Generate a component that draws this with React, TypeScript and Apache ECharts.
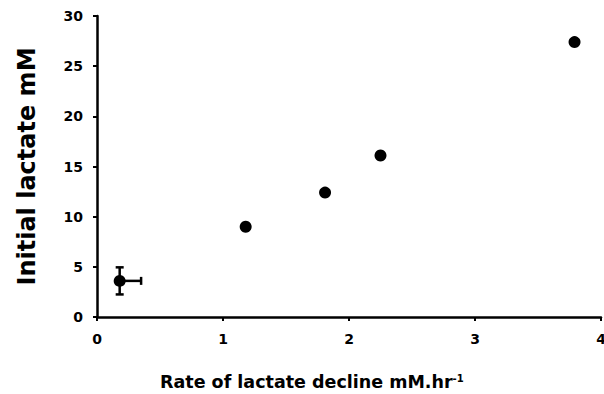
import React, { useEffect, useRef } from "react";
import * as echarts from "echarts";

const xValues = [0.18, 1.18, 1.81, 2.25, 3.79];
const yValues = [3.6, 9.0, 12.4, 16.1, 27.4];
// error bar on first point: [x, y, yErr, xErrRight]
const errorBars = [[0.18, 3.6, 1.35, 0.17]];
const xTitle = "Rate of lactate decline mM.hr";
const xTitleSup = "-1";
const yTitle = "Initial lactate mM";

const FONT = "DejaVu Sans";

export default function App() {
  const ref = useRef<HTMLDivElement>(null);
  useEffect(() => {
    if (!ref.current) return;
    const chart = echarts.init(ref.current, null, { renderer: "svg" });
    const points = xValues.map((x, i) => [x, yValues[i]]);
    chart.setOption({
      animation: false,
      backgroundColor: "#ffffff",
      grid: { left: 97, right: 3, top: 16, bottom: 77, containLabel: false, outerBoundsMode: "none" },
      xAxis: {
        type: "value",
        min: 0,
        max: 4,
        interval: 1,
        splitLine: { show: false },
        axisLine: { show: true, lineStyle: { color: "#000", width: 2.5 } },
        axisTick: { show: true, length: 4, lineStyle: { color: "#000", width: 2 } },
        axisLabel: {
          color: "#000",
          fontFamily: FONT,
          fontWeight: "bold",
          fontSize: 14,
          margin: 15,
        },
      },
      yAxis: {
        type: "value",
        min: 0,
        max: 30,
        interval: 5,
        name: yTitle,
        nameLocation: "middle",
        nameGap: 58,
        nameTextStyle: {
          color: "#000",
          fontFamily: FONT,
          fontWeight: "bold",
          fontSize: 24,
        },
        splitLine: { show: false },
        axisLine: { show: true, lineStyle: { color: "#000", width: 2.5 } },
        axisTick: { show: true, length: 4, lineStyle: { color: "#000", width: 2 } },
        axisLabel: {
          color: "#000",
          fontFamily: FONT,
          fontWeight: "bold",
          fontSize: 14,
          margin: 14,
        },
      },
      graphic: [
        {
          type: "text",
          left: 160,
          top: 373,
          style: {
            text: `{a|${xTitle}}{s|${xTitleSup}}`,
            rich: {
              a: {
                fontFamily: FONT,
                fontWeight: "bold",
                fontSize: 17.5,
                fill: "#000",
                verticalAlign: "bottom",
              },
              s: {
                fontFamily: FONT,
                fontWeight: "bold",
                fontSize: 10,
                fill: "#000",
                verticalAlign: "top",
              },
            },
          },
        },
      ],
      series: [
        {
          type: "custom",
          data: errorBars,
          renderItem: (params: any, api: any) => {
            const x = api.value(0);
            const y = api.value(1);
            const ye = api.value(2);
            const xe = api.value(3);
            const top = api.coord([x, y + ye]);
            const bot = api.coord([x, y - ye]);
            const c = api.coord([x, y]);
            const r = api.coord([x + xe, y]);
            const cap = 4;
            const st = { stroke: "#000", lineWidth: 2.5 };
            return {
              type: "group",
              children: [
                { type: "line", shape: { x1: top[0], y1: top[1], x2: bot[0], y2: bot[1] }, style: st },
                { type: "line", shape: { x1: top[0] - cap, y1: top[1], x2: top[0] + cap, y2: top[1] }, style: st },
                { type: "line", shape: { x1: bot[0] - cap, y1: bot[1], x2: bot[0] + cap, y2: bot[1] }, style: st },
                { type: "line", shape: { x1: c[0], y1: c[1], x2: r[0], y2: r[1] }, style: st },
                { type: "line", shape: { x1: r[0], y1: r[1] - cap, x2: r[0], y2: r[1] + cap }, style: st },
              ],
            };
          },
        },
        {
          type: "scatter",
          data: points,
          symbol: "circle",
          symbolSize: 12,
          itemStyle: { color: "#000", opacity: 1 },
        },
      ],
    });
    return () => chart.dispose();
  }, []);
  return (
    <div
      ref={ref}
      style={{ position: "fixed", left: 0, top: 0, width: 604, height: 394, background: "#fff" }}
    />
  );
}
